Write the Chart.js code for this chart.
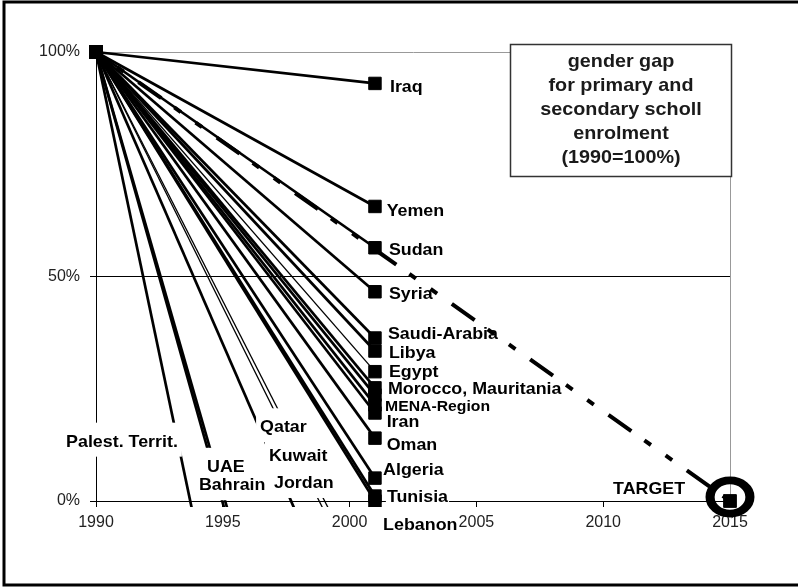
<!DOCTYPE html>
<html><head><meta charset="utf-8">
<script src="https://cdn.jsdelivr.net/npm/chart.js@4/dist/chart.umd.min.js"></script>
<style>html,body{margin:0;padding:0;background:#fff}#wrap{width:798px;height:588px;position:relative}</style>
</head><body><div id="wrap"><canvas id="c" width="798" height="588"></canvas></div>
<script>
// ---- data ----
const countries = ['Iraq','Yemen','Sudan','Syria','Saudi-Arabia','Libya','Egypt','Morocco','Mauritania','MENA-Region','Iran','Oman','Algeria','Tunisia','Lebanon','Palest. Territ.','UAE','Bahrain','Qatar','Kuwait','Jordan'];
const years = [1990, 2001];
const values1990 = [100,100,100,100,100,100,100,100,100,100,100,100,100,100,100,100,100,100,100,100,100];
const values2001 = [93.0,65.6,56.4,46.6,36.3,33.4,28.8,25.2,23.6,21.4,19.6,14.0,5.1,1.1,0,-196,-121,-116,-43,-25,-22];
const targetYears = [1990, 2015];
const targetValues = [100, 0];
const xTicks = [1990,1995,2000,2005,2010,2015];
const yTicks = [0,50,100];
const titleLines = ['gender gap','for primary and','secondary scholl','enrolment','(1990=100%)'];

// ---- label placement (data coordinates) ----
const pointLabels = [
  {text:'Iraq', x:2001.59, y:91.0},
  {text:'Yemen', x:2001.46, y:63.5},
  {text:'Sudan', x:2001.55, y:54.8},
  {text:'Syria', x:2001.55, y:45.1},
  {text:'Saudi-Arabia', x:2001.51, y:36.0},
  {text:'Libya', x:2001.55, y:31.8},
  {text:'Egypt', x:2001.55, y:27.6},
  {text:'Morocco, Mauritania', x:2001.51, y:23.8},
  {text:'MENA-Region', x:2001.40, y:20.1, size:15},
  {text:'Iran', x:2001.46, y:16.5},
  {text:'Oman', x:2001.46, y:11.4},
  {text:'Algeria', x:2001.32, y:5.8},
  {text:'Tunisia', x:2001.47, y:-0.2},
  {text:'Lebanon', x:2001.32, y:-6.5},
  {text:'TARGET', x:2010.39, y:1.6},
  {text:'Palest. Territ.', x:1988.82, y:12.1, big:true},
  {text:'Qatar', x:1996.47, y:15.3, big:true},
  {text:'UAE', x:1994.38, y:6.5, big:true},
  {text:'Kuwait', x:1996.82, y:8.8, big:true},
  {text:'Bahrain', x:1994.06, y:2.4, big:true},
  {text:'Jordan', x:1997.02, y:2.9, big:true}
];
const thinLines = new Set(['Egypt','Kuwait','Jordan']);
const FONT = '"Liberation Sans", Arial, sans-serif';
const STRETCH = 1.05;

// ---- ring image for target ----
const ring = document.createElement('canvas');
ring.width = 58; ring.height = 54;
(function(){
  const g = ring.getContext('2d');
  g.translate(29, 23);
  g.scale(1.2, 1);
  g.beginPath();
  g.arc(0, 0, 16.6, 0, Math.PI*2);
  g.lineWidth = 7.6;
  g.strokeStyle = '#000';
  g.stroke();
})();

const clipBox = {left:14, top:14, right:14, bottom:6};
const datasets = [];
// index 0: ring around target
datasets.push({
  data: [{x: targetYears[1], y: targetValues[1]}],
  showLine: false, pointStyle: ring, pointRadius: 20, clip: false
});
// index 1: target dashed line
datasets.push({
  data: targetYears.map((yr, i) => ({x: yr, y: targetValues[i]})),
  borderColor: '#000', borderWidth: 4, borderDash: [8,18,8,18,28,16],
  pointStyle: 'rect', pointRadius: 9, pointBorderWidth: 1,
  pointBackgroundColor: '#000', pointBorderColor: '#000', clip: false
});
countries.forEach((c, i) => {
  datasets.push({
    label: c,
    data: [{x: years[0], y: values1990[i]}, {x: years[1], y: values2001[i]}],
    borderColor: '#000', borderWidth: thinLines.has(c) ? 1.3 : 2.7,
    pointStyle: 'rect', pointRadius: 8.8, pointBorderWidth: 1,
    pointBackgroundColor: '#000', pointBorderColor: '#000',
    clip: clipBox
  });
});

const labelPlugin = {
  id: 'ptlabels',
  beforeDatasetDraw(chart, args) {
    if (args.index !== 1) return;
    const {ctx, scales: {x, y}} = chart;
    ctx.save();
    const items = pointLabels.map(l => {
      const size = l.size || 17;
      ctx.font = `bold ${size}px ${FONT}`;
      const w = ctx.measureText(l.text).width * STRETCH;
      const pad = l.big ? [4, 24, 10] : [1, 14, 4];
      return {l, size, w, pad, px: x.getPixelForValue(l.x), py: y.getPixelForValue(l.y)};
    });
    ctx.fillStyle = '#fff';
    items.forEach(it => ctx.fillRect(it.px - it.pad[0], it.py - it.pad[1], it.w + 2*it.pad[0], it.pad[1] + it.pad[2]));
    ctx.fillStyle = '#000';
    ctx.textBaseline = 'alphabetic';
    ctx.textAlign = 'left';
    items.forEach(it => {
      ctx.save();
      ctx.translate(it.px, it.py);
      ctx.scale(STRETCH, 1);
      ctx.font = `bold ${it.size}px ${FONT}`;
      ctx.fillText(it.l.text, 0, 0);
      ctx.restore();
    });
    ctx.restore();
  }
};

const decoPlugin = {
  id: 'deco',
  afterDraw(chart) {
    const ctx = chart.ctx;
    ctx.save();
    // title box
    ctx.fillStyle = '#fff';
    ctx.fillRect(510.5, 44.5, 221, 132);
    ctx.strokeStyle = '#333';
    ctx.lineWidth = 1.5;
    ctx.strokeRect(510.5, 44.5, 221, 132);
    ctx.fillStyle = '#1a1a1a';
    ctx.textAlign = 'center';
    ctx.textBaseline = 'alphabetic';
    titleLines.forEach((t, i) => {
      ctx.save();
      ctx.translate(621, 66.5 + 24 * i);
      ctx.scale(1.04, 1);
      ctx.font = `bold 19px ${FONT}`;
      ctx.fillText(t, 0, 0);
      ctx.restore();
    });
    // outer frame (left, top, bottom)
    ctx.strokeStyle = '#000';
    ctx.lineWidth = 3;
    ctx.beginPath();
    ctx.moveTo(800, 2); ctx.lineTo(4, 2); ctx.lineTo(4, 585); ctx.lineTo(800, 585);
    ctx.stroke();
    ctx.restore();
  }
};

new Chart(document.getElementById('c'), {
  type: 'line',
  data: {datasets},
  options: {
    responsive: false, animation: false, devicePixelRatio: 1, events: [],
    layout: {padding: {left: 0, right: 68, top: 52, bottom: 0}},
    plugins: {legend: {display: false}, tooltip: {enabled: false}},
    scales: {
      x: {
        type: 'linear', min: xTicks[0], max: xTicks[xTicks.length - 1],
        afterBuildTicks: s => { s.ticks = xTicks.map(v => ({value: v})); },
        ticks: {callback: v => String(v), font: {family: FONT, size: 16}, color: '#222', padding: 6, maxRotation: 0, autoSkip: false},
        grid: {drawOnChartArea: true, color: c => (c.tick && c.tick.value === 2015) ? '#999' : 'rgba(0,0,0,0)', tickColor: '#000', tickLength: 6},
        border: {color: '#000', width: 1},
        afterFit: s => { s.height = 87; }
      },
      y: {
        min: 0, max: 100,
        afterBuildTicks: s => { s.ticks = yTicks.map(v => ({value: v})); },
        ticks: {callback: v => v + '%', font: {family: FONT, size: 16}, color: '#222', padding: 10},
        grid: {color: c => (c.tick && c.tick.value === 50) ? '#000' : (c.tick && c.tick.value === 100 ? '#999' : 'rgba(0,0,0,0)'), tickColor: '#000', tickLength: 6},
        border: {color: '#000', width: 1},
        afterFit: s => { s.width = 96; }
      }
    }
  },
  plugins: [labelPlugin, decoPlugin]
});
</script>
</body></html>
